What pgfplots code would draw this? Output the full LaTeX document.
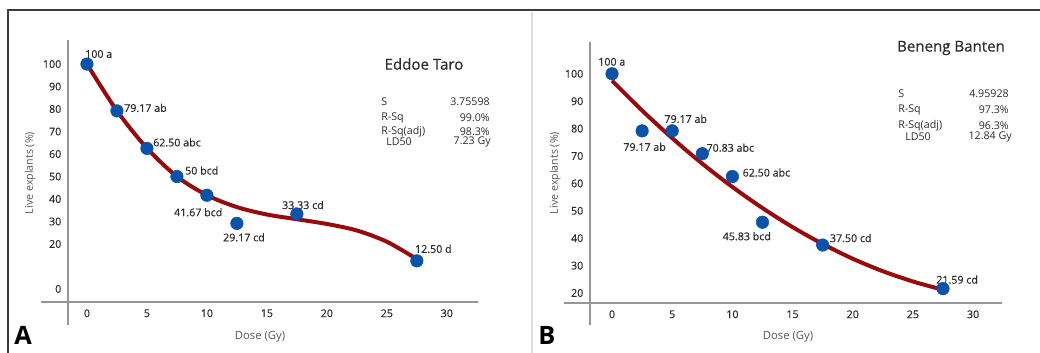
\documentclass[border=0pt]{standalone}
\usepackage{pgfplots}
\pgfplotsset{compat=1.18}
\usepackage{fontspec}
\setmainfont{Open Sans}
\newfontfamily\semi{Open Sans}[FakeBold=0.5]
\definecolor{curve}{RGB}{150,12,14}
\definecolor{dot}{RGB}{12,82,168}
\definecolor{axl}{RGB}{150,150,150}
\definecolor{txt}{RGB}{45,45,45}
\definecolor{frame}{RGB}{60,60,60}
\pgfplotsset{panel/.style={
  scale only axis, axis line style={draw=none}, major tick length=0pt, clip=false,
  tick label style={font=\semi\fontsize{8}{9}\selectfont, text=txt},
  /pgf/number format/assume math mode=true,
  xtick={0,5,...,30},
  xticklabel style={yshift=-2pt},
  yticklabel style={xshift=-1.5pt},
}}
\newcommand{\lab}[4]{\node[anchor=west,inner sep=0pt,font=\semi\fontsize{8}{9}\selectfont,text=txt] at (axis cs:#1) [xshift=#2pt,yshift=#3pt] {#4};}
\begin{document}
\begin{tikzpicture}
\path[use as bounding box] (0,0) rectangle (780pt,264.75pt);
% ---------------- Panel A
\begin{axis}[panel, at={(51pt,38.25pt)}, anchor=south west,
  width=307.5pt, height=196.5pt,
  xmin=-1.58, xmax=32.6, ymin=-5.8, ymax=110.7,
  ytick={0,20,30,40,50,60,70,80,90,100}]
\draw[axl, line width=0.9pt] (axis cs:-1.58,-16) -- (axis cs:-1.58,110.7);
\draw[axl, line width=0.9pt] (axis cs:-3.83,-5.8) -- (axis cs:32.6,-5.8);
\addplot[curve, line width=3pt, smooth] coordinates {
 (0,100) (2.5,79.2) (5,62.6) (7.5,50) (10,41.7) (12.5,36.4) (15,33.1) (17.5,31) (20,28.9) (22.5,26) (25,21) (27.5,13.3)};
\addplot[only marks, mark=*, mark size=4.7pt, color=dot] coordinates {
 (0,100) (2.5,79.17) (5,62.50) (7.5,50) (10,41.67) (12.5,29.17) (17.5,33.33) (27.5,12.50)};
\lab{0,100}{-1.5}{7.5}{100 a}
\lab{2.5,79.17}{5.25}{2.25}{79.17 ab}
\lab{5,62.5}{4.5}{4.5}{62.50 abc}
\lab{7.5,50}{6}{4.5}{50 bcd}
\lab{10,41.67}{-24.75}{-12.75}{41.67 bcd}
\lab{12.5,29.17}{-10.5}{-10.5}{29.17 cd}
\lab{17.5,33.33}{-11.25}{6.75}{33.33 cd}
\lab{27.5,12.5}{-1.5}{9}{12.50 d}
\end{axis}
% ---------------- Panel B
\begin{axis}[panel, at={(442.5pt,37.5pt)}, anchor=south west,
  width=309pt, height=195.75pt,
  xmin=-1.83, xmax=32.4, ymin=16.35, ymax=111.6,
  ytick={20,30,...,100}]
\draw[axl, line width=0.9pt] (axis cs:-1.83,8.3) -- (axis cs:-1.83,111.6);
\draw[axl, line width=0.9pt] (axis cs:-3.98,16.35) -- (axis cs:32.4,16.35);
\addplot[curve, line width=3pt, smooth] coordinates {
 (0,97.5) (2.5,86.6) (5,76.5) (7.5,67.2) (10,58.7) (12.5,51.0) (15,44.05) (17.5,37.9) (20,32.5) (22.5,27.95) (25,24.2) (27.3,21.4)};
\addplot[only marks, mark=*, mark size=4.7pt, color=dot] coordinates {
 (0,100) (2.5,79.17) (5,79.17) (7.5,70.83) (10,62.50) (12.5,45.83) (17.5,37.50) (27.5,21.59)};
\lab{0,100}{-10.5}{9}{100 a}
\lab{2.5,79.17}{-14.25}{-12}{79.17 ab}
\lab{5,79.17}{-6}{9}{79.17 ab}
\lab{7.5,70.83}{3}{4.5}{70.83 abc}
\lab{10,62.5}{7.5}{3}{62.50 abc}
\lab{12.5,45.83}{-30}{-10.5}{45.83 bcd}
\lab{17.5,37.5}{5.25}{5.25}{37.50 cd}
\lab{27.5,21.59}{-5.25}{6.75}{21.59 cd}
\end{axis}
% ---------------- annotations in pixel units
\begin{scope}[x=0.75pt, y=-0.75pt, shift={(0pt,264.75pt)}]
\draw[frame, line width=1pt] (8,353) -- (8,10) -- (1040,10);
\draw[black!12, line width=0.8pt] (532,12) -- (532,353);
% panel A texts
\node[rotate=90, font=\fontsize{8}{9}\selectfont, text=txt!80] at (30,173) {Live explants (\%)};
\node[font=\fontsize{8.5}{10}\selectfont, text=txt!80] at (260,337) {Dose (Gy)};
\node[anchor=south west, inner sep=0pt, font=\fontsize{19}{20}\selectfont\bfseries] at (14,345) {A};
\node[font=\semi\fontsize{11.3}{13}\selectfont, text=txt] at (424,64) {Eddoe Taro};
\begin{scope}[every node/.style={inner sep=0pt, font=\fontsize{8}{9}\selectfont, text=txt}]
\node[anchor=west] at (381,102) {S};
\node[anchor=west] at (381,118) {R-Sq};
\node[anchor=west] at (381,132) {R-Sq(adj)};
\node[anchor=west] at (386,142) {LD50};
\node[anchor=east] at (490,102) {3.75598};
\node[anchor=east] at (490,118) {99.0\%};
\node[anchor=east] at (490,132) {98.3\%};
\node[anchor=east] at (491,142) {7.23 Gy};
% panel B
\node[anchor=west] at (898,94) {S};
\node[anchor=west] at (898,110) {R-Sq};
\node[anchor=west] at (898,126) {R-Sq(adj)};
\node[anchor=west] at (905,137) {LD50};
\node[anchor=east] at (1009,94) {4.95928};
\node[anchor=east] at (1009,110) {97.3\%};
\node[anchor=east] at (1009,126) {96.3\%};
\node[anchor=east] at (1012,137) {12.84 Gy};
\end{scope}
\node[rotate=90, font=\fontsize{8}{9}\selectfont, text=txt!80] at (555,173) {Live explants (\%)};
\node[font=\fontsize{8.5}{10}\selectfont, text=txt!80] at (788,337) {Dose (Gy)};
\node[anchor=south west, inner sep=0pt, font=\fontsize{19}{20}\selectfont\bfseries] at (538,345) {B};
\node[font=\semi\fontsize{11.3}{13}\selectfont, text=txt] at (951,48) {Beneng Banten};
\end{scope}
\end{tikzpicture}
\end{document}
